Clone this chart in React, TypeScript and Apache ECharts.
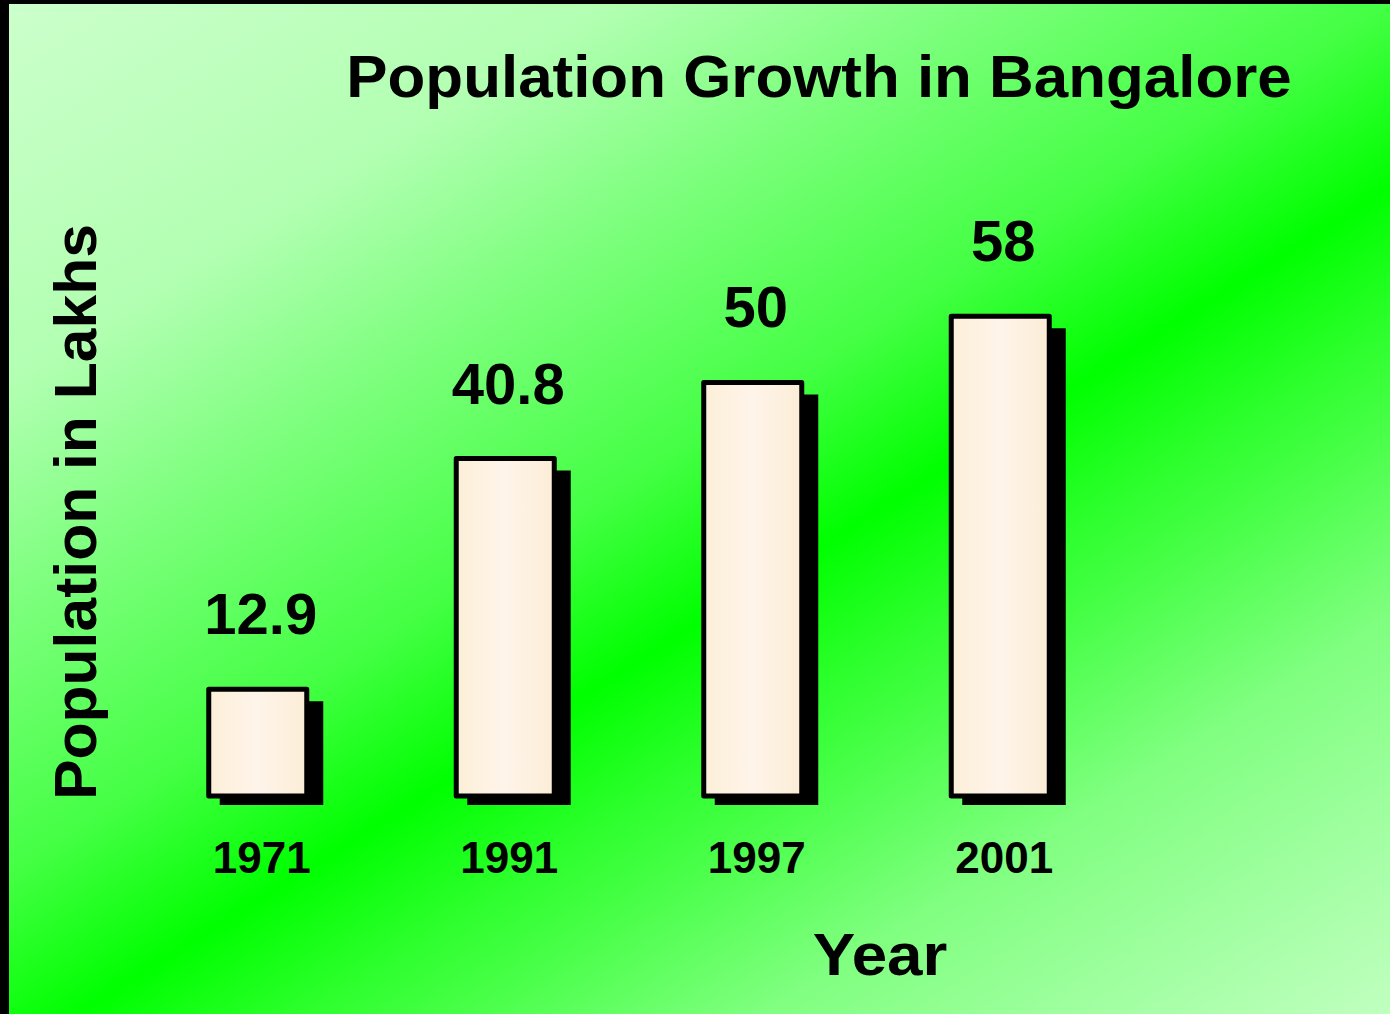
import React, { useEffect, useRef } from "react";
import * as echarts from "echarts";

const years = ["1971", "1991", "1997", "2001"];
const population = [12.9, 40.8, 50, 58];
const valueLabels = ["12.9", "40.8", "50", "58"];
const chartTitle = "Population Growth in Bangalore";
const yTitle = "Population in Lakhs";
const xTitle = "Year";

const FONT = "'Liberation Sans', Arial, sans-serif";

export default function App() {
  const ref = useRef<HTMLDivElement>(null);
  useEffect(() => {
    if (!ref.current) return;
    const chart = echarts.init(ref.current, null, { renderer: "svg" });
    const barFill = {
      type: "linear",
      x: 0,
      y: 0,
      x2: 1,
      y2: 0,
      colorStops: [
        { offset: 0, color: "#fcefd8" },
        { offset: 0.5, color: "#fff4ea" },
        { offset: 1, color: "#fbedd6" },
      ],
    };
    const option: any = {
      animation: false,
      grid: { left: 134, right: 266, top: 217, bottom: 218, containLabel: false },
      xAxis: {
        type: "category",
        data: years,
        axisLine: { show: false },
        axisTick: { show: false },
        splitLine: { show: false },
        axisLabel: {
          color: "#000",
          fontFamily: FONT,
          fontWeight: "bold",
          fontSize: 44,
          margin: 39,
          padding: [0, 0, 0, 8],
        },
      },
      yAxis: {
        type: "value",
        min: 0,
        max: 70,
        show: false,
        splitLine: { show: false },
      },
      graphic: [
        {
          type: "rect",
          z: -10,
          silent: true,
          shape: { x: 9, y: 4, width: 1381, height: 1010 },
          style: {
            fill: {
              type: "linear",
              global: true,
              x: 0,
              y: 0,
              x2: 853,
              y2: 1354,
              colorStops: [
                { offset: 0, color: "#ccffcc" },
                { offset: 0.206, color: "#b2ffb2" },
                { offset: 0.313, color: "#82ff82" },
                { offset: 0.465, color: "#44ff44" },
                { offset: 0.562, color: "#00ff00" },
                { offset: 0.635, color: "#2cff2c" },
                { offset: 0.674, color: "#40ff40" },
                { offset: 0.79, color: "#80ff80" },
                { offset: 1, color: "#c0ffc0" },
              ],
            },
          },
        },
        {
          type: "text",
          z: 10,
          x: 819,
          y: 76.5,
          scaleX: 1.049,
          style: {
            text: chartTitle,
            font: `bold 59px ${FONT}`,
            fill: "#000",
            textAlign: "center",
            textVerticalAlign: "middle",
          },
        },
        {
          type: "text",
          z: 10,
          x: 75,
          y: 512,
          rotation: Math.PI / 2,
          scaleX: 1.01,
          style: {
            text: yTitle,
            font: `bold 60px ${FONT}`,
            fill: "#000",
            textAlign: "center",
            textVerticalAlign: "middle",
          },
        },
        {
          type: "text",
          z: 10,
          x: 880,
          y: 954.5,
          scaleX: 1.08,
          style: {
            text: xTitle,
            font: `bold 59px ${FONT}`,
            fill: "#000",
            textAlign: "center",
            textVerticalAlign: "middle",
          },
        },
      ],
      series: [
        {
          type: "custom",
          data: population.map((v, i) => [i, v]),
          renderItem: (params: any, api: any) => {
            const idx = api.value(0);
            const v = api.value(1);
            const top = api.coord([idx, v]);
            const base = api.coord([idx, 0]);
            const w = api.size([1, 0])[0] * 0.396;
            const x = top[0] - w / 2;
            const h = base[1] - top[1];
            return {
              type: "group",
              children: [
                {
                  type: "rect",
                  shape: { x: x + 11, y: top[1] + 12, width: w + 5.5, height: h - 12 + 9 },
                  style: { fill: "#000" },
                },
                {
                  type: "rect",
                  shape: { x, y: top[1], width: w, height: h },
                  style: { fill: barFill, stroke: "#000", lineWidth: 5, lineJoin: "round" },
                },
                {
                  type: "text",
                  x: top[0] + 3,
                  y: top[1] - 75.5,
                  style: {
                    text: valueLabels[params.dataIndex],
                    font: `bold 58px ${FONT}`,
                    fill: "#000",
                    textAlign: "center",
                    textVerticalAlign: "middle",
                  },
                },
              ],
            };
          },
        },
      ],
    };
    chart.setOption(option);
    return () => chart.dispose();
  }, []);
  return (
    <div
      ref={ref}
      style={{
        position: "fixed",
        left: 0,
        top: 0,
        width: 1390,
        height: 1014,
        background: "#000",
      }}
    />
  );
}
